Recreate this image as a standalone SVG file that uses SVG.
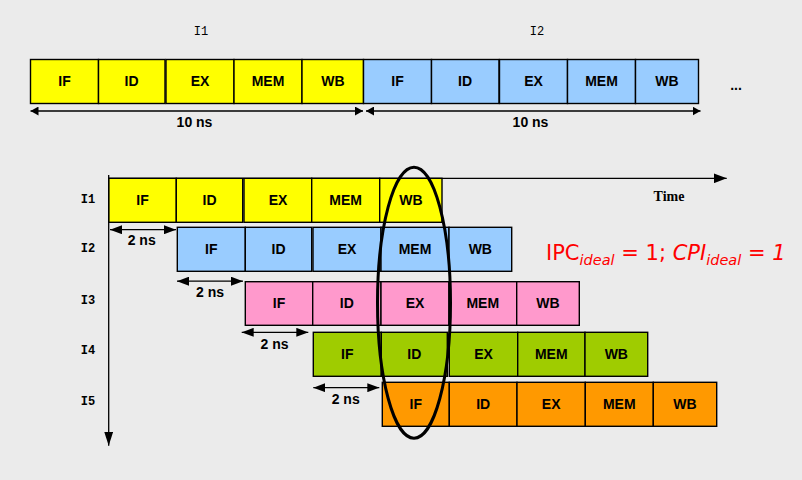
<svg xmlns="http://www.w3.org/2000/svg" width="802" height="480" viewBox="0 0 802 480">
<style>
.bg{fill:#EBEBEB}
.st{stroke:#000;stroke-width:1.4}
.y{fill:#FFFF00}.b{fill:#99CCFF}.p{fill:#FF99CC}.g{fill:#9FCC00}.o{fill:#FF9900}
.lb{font-family:"Liberation Sans",Arial,sans-serif;font-weight:bold;font-size:14px;text-anchor:middle;fill:#000}
.mono{font-family:"Liberation Mono","Courier New",monospace;font-size:12px;text-anchor:middle;fill:#000}
.ln{stroke:#000;stroke-width:1.3;fill:none}
</style>
<defs>
<marker id="a1" viewBox="0 0 10 10" refX="10" refY="5" markerUnits="userSpaceOnUse" markerWidth="8" markerHeight="9" orient="auto-start-reverse" preserveAspectRatio="none"><path d="M0,0L10,5L0,10z" fill="#000"/></marker>
<marker id="a2" viewBox="0 0 10 10" refX="10" refY="5" markerUnits="userSpaceOnUse" markerWidth="12" markerHeight="9" orient="auto-start-reverse" preserveAspectRatio="none"><path d="M0,0L10,5L0,10z" fill="#000"/></marker>
<marker id="a3" viewBox="0 0 10 10" refX="10" refY="5" markerUnits="userSpaceOnUse" markerWidth="13" markerHeight="10" orient="auto" preserveAspectRatio="none"><path d="M0,0L10,5L0,10z" fill="#000"/></marker>
<marker id="a4" viewBox="0 0 10 10" refX="10" refY="5" markerUnits="userSpaceOnUse" markerWidth="14" markerHeight="9" orient="auto" preserveAspectRatio="none"><path d="M0,0L10,5L0,10z" fill="#000"/></marker>
</defs>
<rect class="bg" x="0" y="0" width="802" height="480"/>

<text class="mono" x="201" y="35">I1</text>
<text class="mono" x="537" y="35">I2</text>

<g id="top-i1">
<rect class="y st" x="30.5" y="59.5" width="68" height="44"/>
<rect class="y st" x="98.5" y="59.5" width="66.5" height="44"/>
<rect class="y st" x="166" y="59.5" width="68" height="44"/>
<rect class="y st" x="234" y="59.5" width="68" height="44"/>
<rect class="y st" x="302" y="59.5" width="61.5" height="44"/>
<text class="lb" x="64.5" y="86">IF</text>
<text class="lb" x="131.5" y="86">ID</text>
<text class="lb" x="200" y="86">EX</text>
<text class="lb" x="268" y="86">MEM</text>
<text class="lb" x="333" y="86">WB</text>
</g>
<g id="top-i2">
<rect class="b st" x="363.5" y="59.5" width="68" height="44"/>
<rect class="b st" x="431.5" y="59.5" width="67.5" height="44"/>
<rect class="b st" x="499.5" y="59.5" width="68" height="44"/>
<rect class="b st" x="567.5" y="59.5" width="68" height="44"/>
<rect class="b st" x="635.5" y="59.5" width="63" height="44"/>
<text class="lb" x="397.5" y="86">IF</text>
<text class="lb" x="465" y="86">ID</text>
<text class="lb" x="533.5" y="86">EX</text>
<text class="lb" x="601.5" y="86">MEM</text>
<text class="lb" x="667" y="86">WB</text>
</g>
<text class="lb" x="736" y="90">...</text>
<text class="lb" x="194.5" y="127">10 ns</text>
<text class="lb" x="530.5" y="127">10 ns</text>

<g id="row-i1">
<text class="mono" x="88" y="203" font-weight="bold">I1</text>
<rect class="y st" x="108.7" y="178.3" width="67.6" height="44"/>
<rect class="y st" x="176.3" y="178.3" width="66.4" height="44"/>
<rect class="y st" x="244" y="178.3" width="67.7" height="44"/>
<rect class="y st" x="311.7" y="178.3" width="68" height="44"/>
<rect class="y st" x="379.7" y="178.3" width="62.3" height="44"/>
<text class="lb" x="142.5" y="205">IF</text>
<text class="lb" x="209.5" y="205">ID</text>
<text class="lb" x="278" y="205">EX</text>
<text class="lb" x="345.7" y="205">MEM</text>
<text class="lb" x="411" y="205">WB</text>
</g>
<g id="row-i2">
<text class="mono" x="88" y="252" font-weight="bold">I2</text>
<rect class="b st" x="177.3" y="227.3" width="68" height="44"/>
<rect class="b st" x="245.3" y="227.3" width="66.4" height="44"/>
<rect class="b st" x="313" y="227.3" width="68" height="44"/>
<rect class="b st" x="381" y="227.3" width="68" height="44"/>
<rect class="b st" x="449" y="227.3" width="62.7" height="44"/>
<text class="lb" x="211.3" y="254">IF</text>
<text class="lb" x="278.5" y="254">ID</text>
<text class="lb" x="347" y="254">EX</text>
<text class="lb" x="415" y="254">MEM</text>
<text class="lb" x="480.3" y="254">WB</text>
</g>
<g id="row-i3">
<text class="mono" x="88" y="304" font-weight="bold">I3</text>
<rect class="p st" x="245.3" y="281.7" width="67.4" height="43.6"/>
<rect class="p st" x="312.7" y="281.7" width="68.3" height="43.6"/>
<rect class="p st" x="381" y="281.7" width="68" height="43.6"/>
<rect class="p st" x="449" y="281.7" width="67.7" height="43.6"/>
<rect class="p st" x="516.7" y="281.7" width="62.6" height="43.6"/>
<text class="lb" x="279" y="308">IF</text>
<text class="lb" x="346.8" y="308">ID</text>
<text class="lb" x="415" y="308">EX</text>
<text class="lb" x="482.8" y="308">MEM</text>
<text class="lb" x="548" y="308">WB</text>
</g>
<g id="row-i4">
<text class="mono" x="88" y="354" font-weight="bold">I4</text>
<rect class="g st" x="313.3" y="332.3" width="68" height="44"/>
<rect class="g st" x="381.3" y="332.3" width="66" height="44"/>
<rect class="g st" x="449.3" y="332.3" width="68.4" height="44"/>
<rect class="g st" x="517.7" y="332.3" width="67.3" height="44"/>
<rect class="g st" x="585" y="332.3" width="62.7" height="44"/>
<text class="lb" x="347.3" y="359">IF</text>
<text class="lb" x="414.3" y="359">ID</text>
<text class="lb" x="483.5" y="359">EX</text>
<text class="lb" x="551.3" y="359">MEM</text>
<text class="lb" x="616.3" y="359">WB</text>
</g>
<g id="row-i5">
<text class="mono" x="88" y="405" font-weight="bold">I5</text>
<rect class="o st" x="382.3" y="382.3" width="67" height="44"/>
<rect class="o st" x="449.3" y="382.3" width="67.7" height="44"/>
<rect class="o st" x="517" y="382.3" width="68.3" height="44"/>
<rect class="o st" x="585.3" y="382.3" width="68" height="44"/>
<rect class="o st" x="653.3" y="382.3" width="63.4" height="44"/>
<text class="lb" x="415.8" y="409">IF</text>
<text class="lb" x="483.2" y="409">ID</text>
<text class="lb" x="551.2" y="409">EX</text>
<text class="lb" x="619.3" y="409">MEM</text>
<text class="lb" x="685" y="409">WB</text>
</g>

<g id="connectors">
<line class="ln" x1="30.5" y1="111" x2="363" y2="111" marker-start="url(#a1)" marker-end="url(#a1)"/>
<line class="ln" x1="366" y1="111" x2="700.5" y2="111" marker-start="url(#a1)" marker-end="url(#a1)"/>
<line class="ln" x1="108.7" y1="175" x2="108.7" y2="445.7" marker-end="url(#a4)"/>
<line class="ln" x1="108" y1="178.3" x2="726.7" y2="178.3" marker-end="url(#a3)"/>
<line class="ln" x1="110" y1="229.7" x2="176" y2="229.7" marker-start="url(#a2)" marker-end="url(#a2)"/>
<line class="ln" x1="177" y1="281.2" x2="243" y2="281.2" marker-start="url(#a2)" marker-end="url(#a2)"/>
<line class="ln" x1="241.7" y1="332.3" x2="308.3" y2="332.3" marker-start="url(#a2)" marker-end="url(#a2)"/>
<line class="ln" x1="313.3" y1="387.7" x2="379.3" y2="387.7" marker-start="url(#a2)" marker-end="url(#a2)"/>
</g>

<text class="lb" x="141.7" y="245">2 ns</text>
<text class="lb" x="210" y="297">2 ns</text>
<text class="lb" x="274.5" y="348.5">2 ns</text>
<text class="lb" x="345.7" y="403.5">2 ns</text>

<text x="669" y="200.7" font-family="'Liberation Serif','Times New Roman',serif" font-weight="bold" font-size="14" text-anchor="middle">Time</text>

<ellipse cx="414" cy="302.7" rx="36.5" ry="135.5" fill="none" stroke="#000" stroke-width="3"/>

<text x="546" y="260" font-family="'DejaVu Sans',sans-serif" font-size="21" fill="#FF0000">IPC<tspan font-style="italic" font-size="14.5" dy="4.5">ideal</tspan><tspan dy="-4.5"> = 1; </tspan><tspan font-style="italic">CPI</tspan><tspan font-style="italic" font-size="14.5" dy="4.5">ideal</tspan><tspan font-style="italic" dy="-4.5"> = 1</tspan></text>
</svg>
